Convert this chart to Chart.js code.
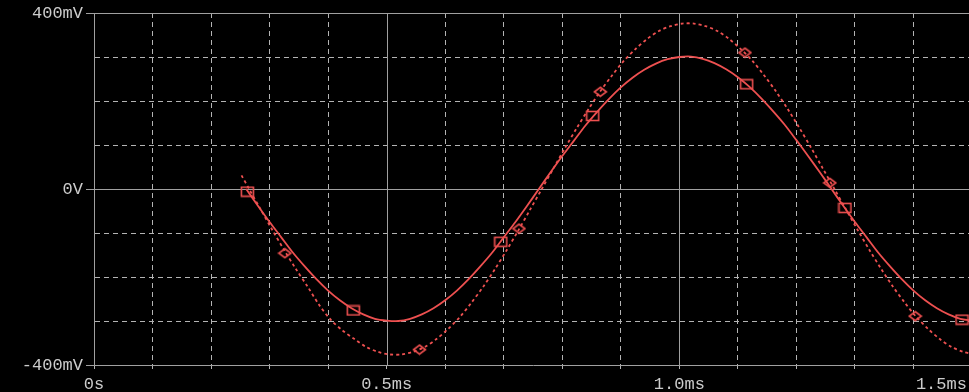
<!DOCTYPE html>
<html>
<head>
<meta charset="utf-8">
<script src="https://cdn.jsdelivr.net/npm/chart.js@4.4.0/dist/chart.umd.min.js"></script>
<style>
  html, body { margin: 0; padding: 0; background: #000; overflow: hidden; }
  #wrap { width: 980px; height: 392px; background: #000; }
</style>
</head>
<body>
<div id="wrap"><canvas id="scope" width="980" height="392"></canvas></div>
<script>
// time in ms, voltage in mV
const timesSolid = [
  0.26, 0.28, 0.30, 0.32, 0.34, 0.36, 0.38, 0.40, 0.42, 0.44, 0.46, 0.48, 0.50,
  0.52, 0.54, 0.56, 0.58, 0.60, 0.62, 0.64, 0.66, 0.68, 0.70, 0.72, 0.74, 0.76,
  0.78, 0.80, 0.82, 0.84, 0.86, 0.88, 0.90, 0.92, 0.94, 0.96, 0.98, 1.00, 1.02,
  1.04, 1.06, 1.08, 1.10, 1.12, 1.14, 1.16, 1.18, 1.20, 1.22, 1.24, 1.26, 1.28,
  1.30, 1.32, 1.34, 1.36, 1.38, 1.40, 1.42, 1.44, 1.46, 1.48, 1.50
];
const valuesSolid = [
  0, -38, -75, -110, -145, -176, -205, -231, -253, -271, -285, -295, -299,
  -300, -295, -285, -271, -253, -231, -205, -176, -145, -110, -75, -38, 0,
  38, 75, 110, 145, 176, 205, 231, 253, 271, 285, 295, 300, 301,
  296, 286, 272, 254, 232, 206, 177, 146, 111, 75, 38, 0, -38,
  -75, -110, -145, -176, -205, -231, -253, -271, -285, -295, -299
];

const timesDotted = [
  0.252, 0.265, 0.285, 0.305, 0.325, 0.345, 0.365, 0.385, 0.405, 0.425, 0.445,
  0.465, 0.485, 0.505, 0.525, 0.545, 0.565, 0.585, 0.605, 0.625, 0.645, 0.665,
  0.685, 0.705, 0.725, 0.745, 0.765, 0.785, 0.805, 0.825, 0.845, 0.865, 0.885,
  0.905, 0.925, 0.945, 0.965, 0.985, 1.005, 1.025, 1.045, 1.065, 1.085, 1.105,
  1.125, 1.145, 1.165, 1.185, 1.205, 1.225, 1.245, 1.265, 1.285, 1.305, 1.325,
  1.345, 1.365, 1.385, 1.405, 1.425, 1.445, 1.465, 1.485, 1.500
];
const valuesDotted = [
  31, 0, -47, -94, -139, -182, -222, -264, -298, -322, -341,
  -359, -370, -376, -376, -370, -359, -341, -318, -291, -258, -222,
  -182, -139, -94, -47, 0, 47, 94, 139, 182, 222, 258,
  291, 318, 341, 359, 370, 376, 376, 370, 359, 341, 318,
  291, 258, 222, 182, 139, 94, 47, 0, -47, -94, -139,
  -182, -222, -258, -291, -318, -341, -359, -370, -375
];

// marker symbols along each trace
const squareTimes = [0.262, 0.443, 0.695, 0.852, 1.115, 1.283, 1.483];
const squareValues = [-6, -276, -120, 166, 238, -43, -297];
const diamondTimes = [0.326, 0.556, 0.726, 0.865, 1.112, 1.257, 1.403];
const diamondValues = [-146, -365, -90, 221, 310, 14, -289];

// axis labels
const xLabels = { '0': '0s', '0.5': '0.5ms', '1': '1.0ms', '1.5': '1.5ms' };
const yLabels = { '400': '400mV', '0': '0V', '-400': '-400mV' };

const RED = '#ee5050';
const GRID = '#b4b4b4';
const AXIS = '#a0a0a0';
const TEXT = '#cccccc';
const FONT = { family: '"Liberation Mono", "DejaVu Sans Mono", monospace', size: 17 };

function toPoints(xs, ys) {
  return xs.map((x, i) => ({ x: x, y: ys[i] }));
}

function keyOf(v) {
  return String(Math.round(v * 1000) / 1000);
}

function markerCanvas(kind) {
  const c = document.createElement('canvas');
  c.width = 15; c.height = 12;
  const g = c.getContext('2d');
  g.strokeStyle = RED;
  g.lineWidth = 1.6;
  if (kind === 'square') {
    g.strokeRect(1.5, 1.5, 12, 9);
  } else {
    g.beginPath();
    g.moveTo(7.5, 1.5); g.lineTo(13.5, 6); g.lineTo(7.5, 10.5); g.lineTo(1.5, 6);
    g.closePath();
    g.stroke();
  }
  return c;
}

// solid reference lines (0V, top edge, 0.5ms, 1.0ms)
const solidLines = {
  id: 'solidLines',
  beforeDatasetsDraw(chart) {
    const { ctx, chartArea: a, scales: { x, y } } = chart;
    ctx.save();
    ctx.strokeStyle = AXIS;
    ctx.lineWidth = 1;
    ctx.beginPath();
    [0, 400].forEach(v => {
      const py = Math.round(y.getPixelForValue(v)) + 0.5;
      ctx.moveTo(a.left, py); ctx.lineTo(a.right, py);
    });
    [0.5, 1.0].forEach(v => {
      const px = Math.round(x.getPixelForValue(v)) + 0.5;
      ctx.moveTo(px, a.top); ctx.lineTo(px, a.bottom);
    });
    ctx.stroke();
    ctx.restore();
  }
};

new Chart(document.getElementById('scope'), {
  type: 'line',
  data: {
    datasets: [
      { data: toPoints(squareTimes, squareValues), showLine: false, pointStyle: markerCanvas('square'),
        pointRadius: 6, order: 1 },
      { data: toPoints(diamondTimes, diamondValues), showLine: false, pointStyle: markerCanvas('diamond'),
        pointRadius: 6, order: 1 },
      { data: toPoints(timesSolid, valuesSolid), borderColor: RED, borderWidth: 1.8,
        pointRadius: 0, tension: 0.3, order: 2 },
      { data: toPoints(timesDotted, valuesDotted), borderColor: RED, borderWidth: 1.8,
        borderDash: [3, 3], pointRadius: 0, tension: 0.3, order: 2 }
    ]
  },
  options: {
    responsive: false,
    animation: false,
    events: [],
    layout: { padding: { top: 13, right: 8, left: 0, bottom: 0 } },
    plugins: { legend: { display: false }, tooltip: { enabled: false } },
    scales: {
      x: {
        type: 'linear',
        min: 0,
        max: 1.5,
        afterFit: s => { s.height = 27; s.paddingLeft = 0; s.paddingRight = 0; },
        ticks: {
          stepSize: 0.1,
          autoSkip: false,
          maxRotation: 0,
          padding: 5,
          color: TEXT,
          font: FONT,
          callback: v => {
            const t = xLabels[keyOf(v)] || '';
            // last label sits inside the plot edge, as on the scope
            return t === '1.5ms' ? t.padEnd(11) : t;
          }
        },
        grid: {
          color: c => (c.tick && xLabels[keyOf(c.tick.value)]) ? 'transparent' : GRID,
          tickColor: GRID,
          tickLength: 4,
          borderDash: [5, 4]
        },
        border: { color: AXIS, width: 1, dash: [5, 4] }
      },
      y: {
        min: -400,
        max: 400,
        afterFit: s => { s.width = 94; s.paddingTop = 0; s.paddingBottom = 0; },
        ticks: {
          stepSize: 100,
          autoSkip: false,
          padding: 3,
          color: TEXT,
          font: FONT,
          callback: v => yLabels[keyOf(v)] || ''
        },
        grid: {
          color: c => (c.tick && yLabels[keyOf(c.tick.value)]) ? 'transparent' : GRID,
          tickColor: c => (c.tick && yLabels[keyOf(c.tick.value)]) ? AXIS : 'transparent',
          tickLength: 8,
          borderDash: [5, 4]
        },
        border: { color: AXIS, width: 1, dash: [5, 4] }
      }
    }
  },
  plugins: [solidLines]
});
</script>
</body>
</html>
